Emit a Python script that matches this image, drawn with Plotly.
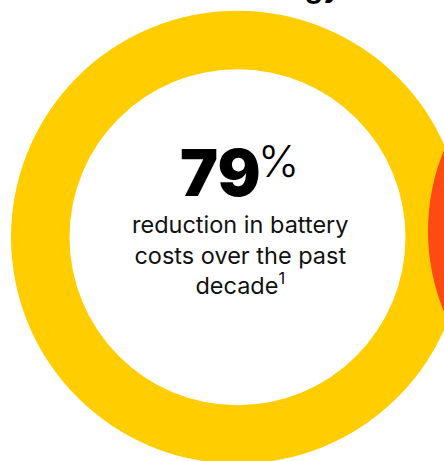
import plotly.graph_objects as go

# ---- data ----
stat_values = [79]
stat_units = ["%"]
caption_lines = ["reduction in battery", "costs over the past", "decade"]
footnote_marks = ["1"]
heading_fragment = ["Energy"]

W, H = 444, 461
YELLOW = "#FFCD00"
ORANGE = "#FF4A14"
INK = "#111111"

fig = go.Figure()
fig.add_trace(go.Scatter(x=[None], y=[None], showlegend=False, hoverinfo="skip"))

cx, cy = 237.5, 237.2
r_out, r_in = 226.5, 168.0
shapes = [
    dict(type="circle", xref="x", yref="y", x0=cx - r_out, x1=cx + r_out,
         y0=cy - r_out, y1=cy + r_out, fillcolor=YELLOW, line=dict(width=0), layer="below"),
    dict(type="circle", xref="x", yref="y", x0=cx - r_in, x1=cx + r_in,
         y0=cy - r_in, y1=cy + r_in, fillcolor="white", line=dict(width=0), layer="below"),
]
ox, oy, orr = 641.0, 231.0, 213.0
shapes.append(dict(type="circle", xref="x", yref="y", x0=ox - orr, x1=ox + orr,
                   y0=oy - orr, y1=oy + orr, fillcolor=ORANGE, line=dict(width=0), layer="below"))

caption = "<br>".join(caption_lines[:-1] + [caption_lines[-1] + "<sup>" + footnote_marks[0] + "</sup>"])

annotations = [
    dict(x=263, y=172, xref="x", yref="y", text=str(stat_values[0]), showarrow=False,
         xanchor="right", yanchor="middle",
         font=dict(family="Inter", size=64, color="black", weight=900)),
    dict(x=256, y=161, xref="x", yref="y", text=stat_units[0], showarrow=False,
         xanchor="left", yanchor="middle",
         font=dict(family="Inter", size=44, color="black", weight=300)),
    dict(x=240, y=208, xref="x", yref="y", text=caption, showarrow=False,
         xanchor="center", yanchor="top", align="center",
         font=dict(family="Inter", size=23.5, color=INK)),
    dict(x=343 / W, y=1 + 14 / H, xref="paper", yref="paper", text=heading_fragment[0],
         showarrow=False, xanchor="right", yanchor="middle",
         font=dict(family="Inter", size=30, color="black", weight=600)),
]

fig.update_layout(
    width=W, height=H, margin=dict(l=0, r=0, t=0, b=0),
    paper_bgcolor="white", plot_bgcolor="white",
    xaxis=dict(range=[0, W], visible=False, fixedrange=True),
    yaxis=dict(range=[H, 0], visible=False, fixedrange=True),
    shapes=shapes, annotations=annotations, showlegend=False,
)
fig.write_html("out.html", config={"displayModeBar": False},
               post_script="document.body.style.margin='0';document.body.style.overflow='hidden';")
